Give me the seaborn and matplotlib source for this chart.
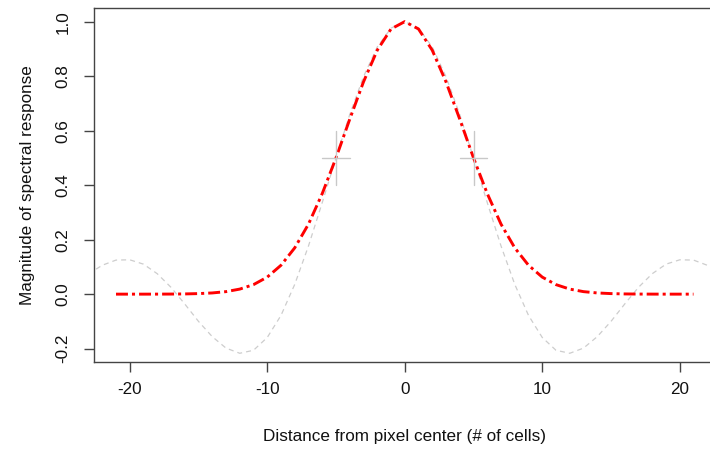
import numpy as np
import pandas as pd
import matplotlib
matplotlib.use("Agg")
import matplotlib.pyplot as plt
import seaborn as sns

# ---- data ----
gauss_x = list(range(-21, 22))
gauss_half = [1.0, 0.973, 0.895, 0.779, 0.642, 0.500, 0.369, 0.257, 0.170, 0.106,
              0.0625, 0.0349, 0.0185, 0.0092, 0.0044, 0.0020, 0.0008, 0.0003,
              0.0001, 0.0, 0.0, 0.0]
gauss_y = gauss_half[:0:-1] + gauss_half

sinc_x = list(range(-23, 24))
sinc_half = [1.0, 0.976, 0.907, 0.798, 0.659, 0.500, 0.336, 0.177, 0.036, -0.078,
             -0.159, -0.206, -0.217, -0.198, -0.156, -0.100, -0.036, 0.025, 0.075,
             0.110, 0.126, 0.125, 0.106, 0.074]
sinc_y = sinc_half[:0:-1] + sinc_half

cross_x = [-5, 5]
cross_y = [0.5, 0.5]
cross_dx = 1.0
cross_dy = 0.1

x_ticks = [-20, -10, 0, 10, 20]
y_ticks = [-0.2, 0.0, 0.2, 0.4, 0.6, 0.8, 1.0]

xlabel = "Distance from pixel center (# of cells)"
ylabel = "Magnitude of spectral response"

# ---- style ----
sns.set_style("white")
plt.rcParams["font.family"] = ["Liberation Sans", "DejaVu Sans"]
plt.rcParams["lines.scale_dashes"] = False

fig = plt.figure(figsize=(7.10, 4.49), dpi=100)
ax = fig.add_axes([94 / 710, 87 / 449, 621.5 / 710, 354 / 449])

df_sinc = pd.DataFrame({"x": sinc_x, "y": sinc_y})
df_gauss = pd.DataFrame({"x": gauss_x, "y": gauss_y})

sns.lineplot(data=df_sinc, x="x", y="y", ax=ax, color="#cdcdcd", lw=0.9,
             linestyle=(0, (3.6, 2.9)), estimator=None, sort=False)
sns.lineplot(data=df_gauss, x="x", y="y", ax=ax, color="#ff0000", lw=2.1,
             linestyle=(0, (8.6, 2.9, 2.2, 2.9)), estimator=None, sort=False)

for cx, cy in zip(cross_x, cross_y):
    ax.plot([cx - cross_dx, cx + cross_dx], [cy, cy], color="#c8c8c8", lw=1.0)
    ax.plot([cx, cx], [cy - cross_dy, cy + cross_dy], color="#c8c8c8", lw=1.0)

ax.set_xlim(-22.6, 22.6)
ax.set_ylim(-0.249, 1.050)
ax.set_xticks(x_ticks)
ax.set_xticklabels([str(v) for v in x_ticks])
ax.set_yticks(y_ticks)
ax.set_yticklabels([f"{v:.1f}" for v in y_ticks], rotation=90, va="center")

for s in ax.spines.values():
    s.set_color("#444444")
    s.set_linewidth(1.0)

ax.tick_params(axis="both", direction="out", length=7, width=1.0,
               color="#444444", labelsize=12.3, labelcolor="#111111",
               left=True, bottom=True)
ax.tick_params(axis="x", pad=7.5)
ax.tick_params(axis="y", pad=10)

ax.set_xlabel(xlabel, fontsize=12.3, color="#111111", labelpad=23)
ax.set_ylabel(ylabel, fontsize=12.3, color="#111111", labelpad=15)

fig.savefig("out.png", dpi=100)
